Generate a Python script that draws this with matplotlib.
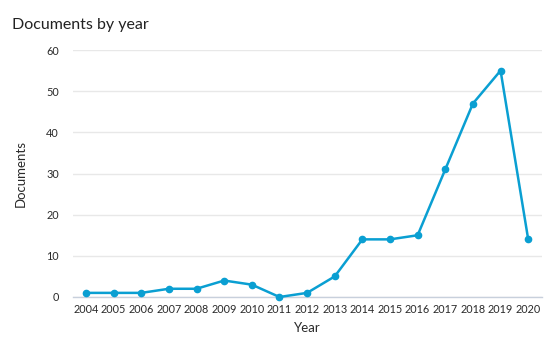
import matplotlib.pyplot as plt

years = [2004, 2005, 2006, 2007, 2008, 2009, 2010, 2011, 2012,
         2013, 2014, 2015, 2016, 2017, 2018, 2019, 2020]
documents = [1, 1, 1, 2, 2, 4, 3, 0, 1, 5, 14, 14, 15, 31, 47, 55, 14]
yticks = [0, 10, 20, 30, 40, 50, 60]

plt.rcParams['font.family'] = ['Lato', 'DejaVu Sans']

fig = plt.figure(figsize=(5.5, 3.37), dpi=100)
ax = fig.add_axes([0.1327, 0.1187, 0.8528, 0.7329])

ax.plot(years, documents, color='#0a9fd2', linewidth=1.8,
        marker='o', markersize=4.5, clip_on=False, zorder=3)

ax.set_xlim(2003.53, 2020.5)
ax.set_ylim(0, 60)
ax.set_xticks(years)
ax.set_xticklabels([str(y) for y in years])
ax.set_yticks(yticks)

ax.grid(axis='y', color='#e8e8e8', linewidth=1)
ax.set_axisbelow(True)
for s in ['top', 'right', 'left']:
    ax.spines[s].set_visible(False)
ax.spines['bottom'].set_color('#c8d0dc')
ax.spines['bottom'].set_linewidth(1)

ax.tick_params(axis='both', length=0, labelsize=7.8, colors='#2a2a2a')
ax.tick_params(axis='x', pad=5)
ax.tick_params(axis='y', pad=10)

ax.set_xlabel('Year', fontsize=9.5, color='#2a2a2a', labelpad=5)
ax.set_ylabel('Documents', fontsize=9.5, color='#2a2a2a', labelpad=14)

fig.text(0.022, 0.915, 'Documents by year', fontsize=11.5, color='#222222')

fig.savefig('out.png', dpi=100)
